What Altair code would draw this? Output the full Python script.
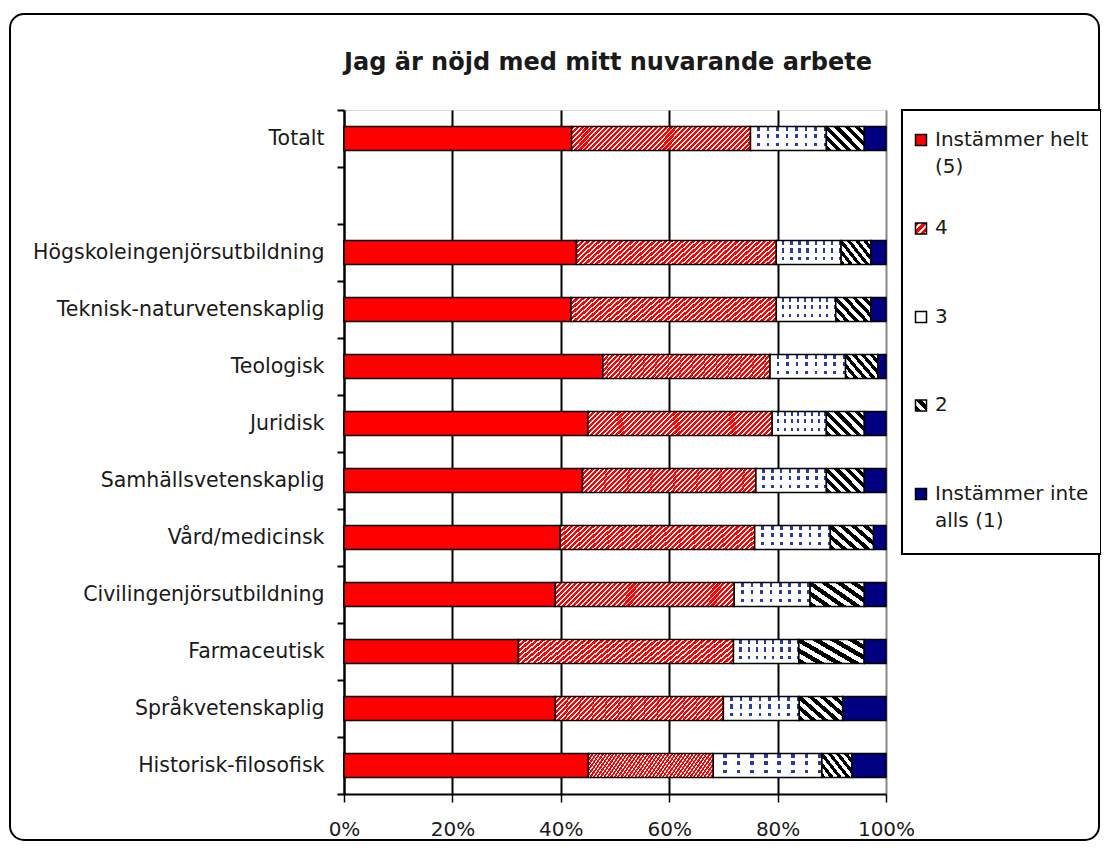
import altair as alt
import pandas as pd

# ---------------- data ----------------
categories = ["Totalt", "Högskoleingenjörsutbildning", "Teknisk-naturvetenskaplig", "Teologisk",
              "Juridisk", "Samhällsvetenskaplig", "Vård/medicinsk", "Civilingenjörsutbildning",
              "Farmaceutisk", "Språkvetenskaplig", "Historisk-filosofisk"]
row_order = ["Totalt", " "] + categories[1:]
series = ["Instämmer helt (5)", "4", "3", "2", "Instämmer inte alls (1)"]
legend_text = ["Instämmer helt\n(5)", "4", "3", "2", "Instämmer inte\nalls (1)"]

helt_5 = [42, 43, 42, 48, 45, 44, 40, 39, 32, 39, 45]
val_4 = [33, 37, 38, 31, 34, 32, 36, 33, 39.5, 31, 23]
val_3 = [14, 12, 11, 14, 10, 13, 14, 14, 12, 14, 20]
val_2 = [7, 5.5, 6.5, 6, 7, 7, 8, 10, 12, 8, 5.5]
inte_1 = [4, 2.8, 2.8, 1.5, 4, 4, 2.3, 4, 4, 8, 6.3]

title_text = ["Jag är nöjd med mitt nuvarande arbete"]
x_ticks = [0, 0.2, 0.4, 0.6, 0.8, 1.0]

rows = []
for si, (s, vals) in enumerate(zip(series, [helt_5, val_4, val_3, val_2, inte_1])):
    for c, v in zip(categories, vals):
        rows.append({"cat": c, "series": s, "order": si, "value": v})
df = pd.DataFrame(rows)
leg_df = pd.DataFrame({"series": series, "label": legend_text, "idx": list(range(len(series)))})
title_df = pd.DataFrame({"t": title_text})

# ---------------- styles ----------------
FONT = "DejaVu Sans"
TXT = "#1a1a1a"
RED = "#ff0000"
NAVY = "#000080"
CLEAR = "rgba(255,255,255,0)"


def stripes(c1, c2, n, frac):
    stops = []
    for i in range(n):
        a = i / n
        b = (i + frac) / n
        c = (i + 1) / n
        stops += [{"offset": round(a, 5), "color": c1}, {"offset": round(b, 5), "color": c1},
                  {"offset": round(b, 5), "color": c2}, {"offset": round(c, 5), "color": c2}]
    return stops


def grad(x1, y1, x2, y2, stops):
    return {"gradient": "linear", "x1": x1, "y1": y1, "x2": x2, "y2": y2, "stops": stops}


G4 = grad(0, 0, 1.113, 0.148, stripes(RED, "white", 41, 0.62))
G3A = grad(0, 0, 1, 0, stripes("white", "#2a3aa8", 8, 0.72))
G3B = grad(0, 0, 0, 1, stripes(CLEAR, "white", 3, 0.5))
G2 = grad(0, 1, 1.167, 0.265, stripes("black", "white", 6, 0.5))

bar_fills = {series[0]: [RED], series[1]: [G4], series[2]: [G3A, G3B],
             series[3]: [G2], series[4]: [NAVY]}
sym_fills = {series[0]: RED,
             series[1]: grad(0, 0, 1, 1, stripes(RED, "white", 3, 0.6)),
             series[2]: "white",
             series[3]: grad(0, 1, 1, 0, stripes("black", "white", 2, 0.5)),
             series[4]: NAVY}

x_axis = alt.Axis(values=x_ticks, format=".0%", title=None, grid=True,
                  gridColor={"condition": {"test": "datum.value >= 1", "value": "#888888"}, "value": "black"},
                  gridWidth=2, tickSize=8, tickWidth=1.5, tickColor="black",
                  domainColor="black", domainWidth=2, labelFont=FONT, labelFontSize=20,
                  labelColor=TXT, labelPadding=17, labelFlush=False)
y_axis = alt.Axis(title=None, tickBand="extent", grid=False, tickSize=7, tickWidth=2,
                  tickColor="black", domainColor="black", domainWidth=2, labelFont=FONT,
                  labelFontSize=20.5, labelColor=TXT, labelPadding=13, labelLimit=400)
y_scale = alt.Scale(domain=row_order, paddingInner=0, paddingOuter=0)
x_scale = alt.Scale(domain=[0, 1], nice=False)

one = pd.DataFrame({"a": [0]})

frame = alt.Chart(one).mark_rect(fillOpacity=0, stroke="black", strokeWidth=2, cornerRadius=14).encode(
    x=alt.value(-334), x2=alt.value(755), y=alt.value(-96), y2=alt.value(730))

title = alt.Chart(title_df).mark_text(font=FONT, fontSize=24, fontWeight="bold", color=TXT,
                                      align="center", baseline="middle").encode(
    x=alt.value(264), y=alt.value(-47), text="t:N")

base = alt.Chart(df).transform_stack(
    stack="value", groupby=["cat"], as_=["x0", "x1"],
    sort=[alt.SortField("order", order="ascending")], offset="normalize")

layers = [frame, title]
first = True
for s in series:
    fl = bar_fills[s]
    for j, f in enumerate(fl):
        last = j == len(fl) - 1
        mk = dict(size=24, fill=f)
        if last:
            mk.update(stroke="black", strokeWidth=1.5)
        else:
            mk.update(strokeWidth=0)
        layers.append(
            base.transform_filter(alt.datum.series == s).mark_bar(**mk).encode(
                x=alt.X("x0:Q", scale=x_scale, axis=x_axis),
                x2="x1:Q",
                y=alt.Y("cat:N", scale=y_scale, axis=y_axis if first else None),
            ))
        first = False

# legend
leg_y = alt.Y("idx:Q", scale=alt.Scale(domain=[-0.339, 7.39], reverse=True, nice=False, zero=False),
              axis=None)
legbox = alt.Chart(one).mark_rect(fill="white", stroke="black", strokeWidth=2).encode(
    x=alt.value(558), x2=alt.value(757), y=alt.value(0), y2=alt.value(444))
layers.append(legbox)
for s in series:
    layers.append(
        alt.Chart(leg_df).transform_filter(alt.datum.series == s).mark_square(
            size=121, fill=sym_fills[s], stroke="black", strokeWidth=1.5, opacity=1).encode(
            x=alt.value(577), y=leg_y))
layers.append(
    alt.Chart(leg_df).mark_text(align="left", baseline="top", dy=-10, lineBreak="\n", lineHeight=27,
                                font=FONT, fontSize=20, color=TXT).encode(
        x=alt.value(591), y=leg_y, text="label:N"))

chart = alt.layer(*layers).resolve_scale(y="independent").properties(
    width=542, height=684,
    autosize=alt.AutoSizeParams(type="none"),
    padding={"left": 336, "top": 102, "right": 215, "bottom": 48},
).configure_view(stroke="#888888", strokeWidth=1.5).configure(background="white")

chart.save("out.html", embed_options={"renderer": "svg", "actions": False})
